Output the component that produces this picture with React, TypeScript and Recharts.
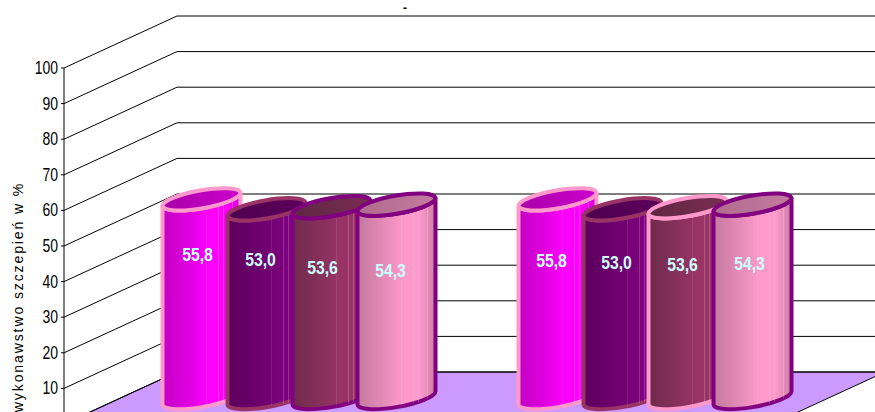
import { Bar, BarChart, CartesianGrid, XAxis, YAxis } from "recharts"

const categories = ["I", "II"]
const seriesKeys = ["a", "b", "c", "d"]
const seriesA = [55.8, 55.8]
const seriesB = [53.0, 53.0]
const seriesC = [53.6, 53.6]
const seriesD = [54.3, 54.3]
const yTicks = [0, 10, 20, 30, 40, 50, 60, 70, 80, 90, 100]

const chartData = categories.map((name, i) => ({
  name,
  a: seriesA[i],
  b: seriesB[i],
  c: seriesC[i],
  d: seriesD[i],
}))

// fake 3D box: the wall sits up and to the right of the axis
const AXIS_X = 64
const DEPTH_X = 113
const DEPTH_Y = 52
const PLOT_RIGHT = 776
const FLOOR_RIGHT = 772
const CHART_H = 440
const MARGIN_BOTTOM = 16

const bodyStops = [
  ["#c400c4", "#e000e0", "#ff00ff", "#ff00ff", "#d800d8"],
  ["#5c005c", "#6c006c", "#760076", "#800080", "#6c006c"],
  ["#6f2b4b", "#86305a", "#993366", "#993366", "#7f2f57"],
  ["#c47a9e", "#e68cb8", "#ff99cc", "#ff99cc", "#c87fa3"],
]
const topStops = [
  ["#a800a8", "#cc00cc"],
  ["#4e004e", "#5c005c"],
  ["#5f2643", "#7a2d52"],
  ["#b06c8e", "#c47a9e"],
]
const stripeOffsets = [0.56, 0.72, 0.78, 0.84, 0.9]
const outlines = [
  ["#ff99cc", "#993366", "#800080", "#800080"],
  ["#ff99cc", "#993366", "#ff99cc", "#800080"],
]
const labelShift = [
  [[-4, 55], [-6, 50], [-9, 60], [-6, 66]],
  [[-6, 61], [-6, 53], [-5, 57], [-3, 59]],
]

function Cylinder({ series, x, y, width, height, index, value }: any) {
  const cx = x + width / 2 + DEPTH_X / 2
  const top = y - DEPTH_Y / 2
  const bottom = y + height - DEPTH_Y / 2
  const rx = 39.5
  const ry = 9
  const dx = 39
  const dy = 6.5
  const stroke = outlines[index][series]
  const [lx, ly] = labelShift[index][series]
  const body =
    `M${cx - dx} ${top + dy} A${rx} ${ry} -10 0 0 ${cx + dx} ${top - dy} ` +
    `L${cx + dx} ${bottom - dy} A${rx} ${ry} -10 0 1 ${cx - dx} ${bottom + dy} Z`
  return (
    <g>
      <path d={body} fill={`url(#body${series})`} stroke={stroke} strokeWidth={4} strokeLinejoin="round" />
      <path d={body} fill="url(#stripes)" />
      <ellipse
        cx={cx}
        cy={top}
        rx={rx}
        ry={ry}
        transform={`rotate(-10 ${cx} ${top})`}
        fill={`url(#top${series})`}
        stroke={stroke}
        strokeWidth={4}
      />
      <text
        transform={`translate(${cx + lx} ${top + ly}) scale(0.83 1)`}
        textAnchor="middle"
        dominantBaseline="central"
        fontFamily="Liberation Sans"
        fontWeight="bold"
        fontSize={19}
        fill="#ccffff"
      >
        {value.toFixed(1).replace(".", ",")}
      </text>
    </g>
  )
}

// one grid level: floor (at zero), side wall diagonal, back wall line
function WallLine({ y1 }: any) {
  const wallY = y1 - DEPTH_Y
  const isFloor = y1 === CHART_H - MARGIN_BOTTOM
  return (
    <g>
      {isFloor && (
        <polygon
          points={`${AXIS_X},${y1} ${AXIS_X + DEPTH_X},${wallY} ${FLOOR_RIGHT + DEPTH_X},${wallY} ${FLOOR_RIGHT},${y1}`}
          fill="#cc99ff"
          stroke="#000"
        />
      )}
      <line x1={AXIS_X} y1={y1} x2={AXIS_X + DEPTH_X} y2={wallY} stroke="#000" />
      <line x1={AXIS_X + DEPTH_X} y1={wallY} x2={FLOOR_RIGHT + DEPTH_X} y2={wallY} stroke="#000" />
    </g>
  )
}

function AxisTick({ y, payload }: any) {
  if (payload.value === 0) return null
  return (
    <text
      transform={`translate(${AXIS_X - 6} ${y}) scale(0.8 1)`}
      textAnchor="end"
      dominantBaseline="central"
      fontFamily="Liberation Sans"
      fontSize={17.5}
      fill="#000"
    >
      {payload.value}
    </text>
  )
}

function AxisTitle() {
  return (
    <text
      transform="translate(23 297) rotate(-90)"
      textAnchor="middle"
      fontFamily="Liberation Sans"
      fontSize={14}
      letterSpacing={1.9}
      fill="#000"
    >
      wykonawstwo szczepień w %
    </text>
  )
}

export default function App() {
  return (
    <div style={{ position: "fixed", left: 0, top: 0, width: 875, height: 412, overflow: "hidden", background: "#fff" }}>
      <BarChart
        width={875}
        height={CHART_H}
        data={chartData}
        margin={{ top: 68, right: 875 - PLOT_RIGHT, bottom: MARGIN_BOTTOM, left: 0 }}
        barSize={78}
        barGap={-13}
      >
        <defs>
          {bodyStops.map((stops, i) => (
            <linearGradient key={i} id={`body${i}`} x1="0" y1="0" x2="1" y2="0">
              <stop offset="0" stopColor={stops[0]} />
              <stop offset="0.35" stopColor={stops[1]} />
              <stop offset="0.6" stopColor={stops[2]} />
              <stop offset="0.8" stopColor={stops[3]} />
              <stop offset="1" stopColor={stops[4]} />
            </linearGradient>
          ))}
          {topStops.map((stops, i) => (
            <linearGradient key={i} id={`top${i}`} x1="0" y1="0" x2="1" y2="0">
              <stop offset="0" stopColor={stops[0]} />
              <stop offset="1" stopColor={stops[1]} />
            </linearGradient>
          ))}
          {/* thin pale bands down the cylinder sides */}
          <linearGradient id="stripes" x1="0" y1="0" x2="1" y2="0">
            {stripeOffsets.flatMap((o) => [
              <stop key={`${o}a`} offset={o - 0.006} stopColor="#fff" stopOpacity={0} />,
              <stop key={`${o}b`} offset={o} stopColor="#fff" stopOpacity={0.3} />,
              <stop key={`${o}c`} offset={o + 0.006} stopColor="#fff" stopOpacity={0} />,
            ])}
          </linearGradient>
        </defs>
        <CartesianGrid vertical={false} horizontal={(props: any) => <WallLine key={props.key} {...props} />} syncWithTicks />
        <XAxis dataKey="name" hide />
        <YAxis
          width={AXIS_X}
          domain={[0, 100]}
          ticks={yTicks}
          interval={0}
          stroke="#000"
          tickSize={3}
          tick={<AxisTick />}
          label={<AxisTitle />}
        />
        {seriesKeys.map((key, i) => (
          <Bar key={key} dataKey={key} isAnimationActive={false} shape={(props: any) => <Cylinder {...props} series={i} />} />
        ))}
        <text x={405} y={12} textAnchor="middle" fontFamily="Liberation Sans" fontSize={12} fontWeight="bold" fill="#000">
          -
        </text>
      </BarChart>
    </div>
  )
}
